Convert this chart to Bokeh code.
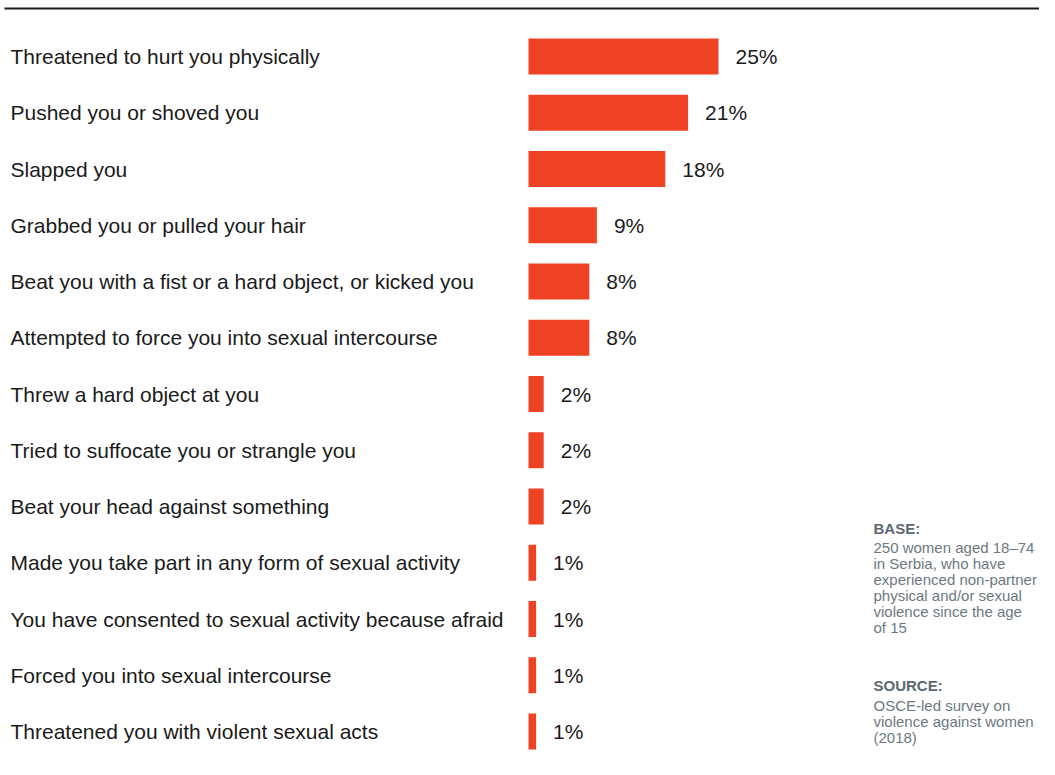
from bokeh.plotting import figure
from bokeh.models import Range1d
from bokeh.core.properties import value
from bokeh.embed import file_html
from bokeh.resources import INLINE

categories = [
    "Threatened to hurt you physically",
    "Pushed you or shoved you",
    "Slapped you",
    "Grabbed you or pulled your hair",
    "Beat you with a fist or a hard object, or kicked you",
    "Attempted to force you into sexual intercourse",
    "Threw a hard object at you",
    "Tried to suffocate you or strangle you",
    "Beat your head against something",
    "Made you take part in any form of sexual activity",
    "You have consented to sexual activity because afraid",
    "Forced you into sexual intercourse",
    "Threatened you with violent sexual acts",
]
values = [25, 21, 18, 9, 8, 8, 2, 2, 2, 1, 1, 1, 1]
value_labels = [f"{v}%" for v in values]

base_title = "BASE:"
base_lines = ["250 women aged 18\u201374", "in Serbia, who have", "experienced non-partner",
              "physical and/or sexual", "violence since the age", "of 15"]
source_title = "SOURCE:"
source_lines = ["OSCE-led survey on", "violence against women", "(2018)"]

W, H = 1039, 759
ZERO_X = 528.0
PX_PER_PCT = 7.6
ROW0 = 56.0
ROW_PITCH = 56.25

x0 = -ZERO_X / PX_PER_PCT
y0 = -ROW0 / ROW_PITCH
p = figure(width=W, height=H, output_backend="svg", toolbar_location=None,
           x_range=Range1d(x0, x0 + W / PX_PER_PCT),
           y_range=Range1d(y0 + H / ROW_PITCH, y0),
           x_axis_type=None, y_axis_type=None,
           min_border=0, min_border_left=0, min_border_right=0,
           min_border_top=0, min_border_bottom=0,
           outline_line_color=None, background_fill_color="white")
p.grid.visible = False
p.extra_x_ranges = {"px": Range1d(0, W)}
p.extra_y_ranges = {"py": Range1d(H, 0)}

idx = list(range(len(categories)))
FONT = value("Liberation Sans")

# top rule
p.segment(x0=[4], x1=[W], y0=[8], y1=[8], x_range_name="px", y_range_name="py",
          line_color="#1a1a1a", line_width=2)

p.hbar(y=idx, left=0, right=values, height=36 / ROW_PITCH,
       fill_color="#ef4225", line_color=None)

p.text(x=[10] * len(idx), y=idx, text=categories, x_range_name="px",
       text_baseline="middle", text_align="left", text_font=FONT,
       text_font_size="21px", text_color="#1a1a1a")

p.text(x=values, y=idx, text=value_labels, x_offset=17,
       text_baseline="middle", text_align="left", text_font=FONT,
       text_font_size="21px", text_color="#1a1a1a")

NX = 873
NOTE_COLOR = "#6d7882"
HEAD_COLOR = "#5c6771"
p.text(x=[NX], y=[528], text=[base_title], x_range_name="px", y_range_name="py",
       text_baseline="middle", text_font=FONT, text_font_size="15px",
       text_font_style="bold", text_color=HEAD_COLOR)
p.text(x=[NX] * len(base_lines), y=[547 + 16 * i for i in range(len(base_lines))],
       text=base_lines, x_range_name="px", y_range_name="py",
       text_baseline="middle", text_font=FONT, text_font_size="15px",
       text_color=NOTE_COLOR)
p.text(x=[NX], y=[685], text=[source_title], x_range_name="px", y_range_name="py",
       text_baseline="middle", text_font=FONT, text_font_size="15px",
       text_font_style="bold", text_color=HEAD_COLOR)
p.text(x=[NX] * len(source_lines), y=[705 + 16 * i for i in range(len(source_lines))],
       text=source_lines, x_range_name="px", y_range_name="py",
       text_baseline="middle", text_font=FONT, text_font_size="15px",
       text_color=NOTE_COLOR)

open("out.html", "w").write(file_html(p, INLINE))
